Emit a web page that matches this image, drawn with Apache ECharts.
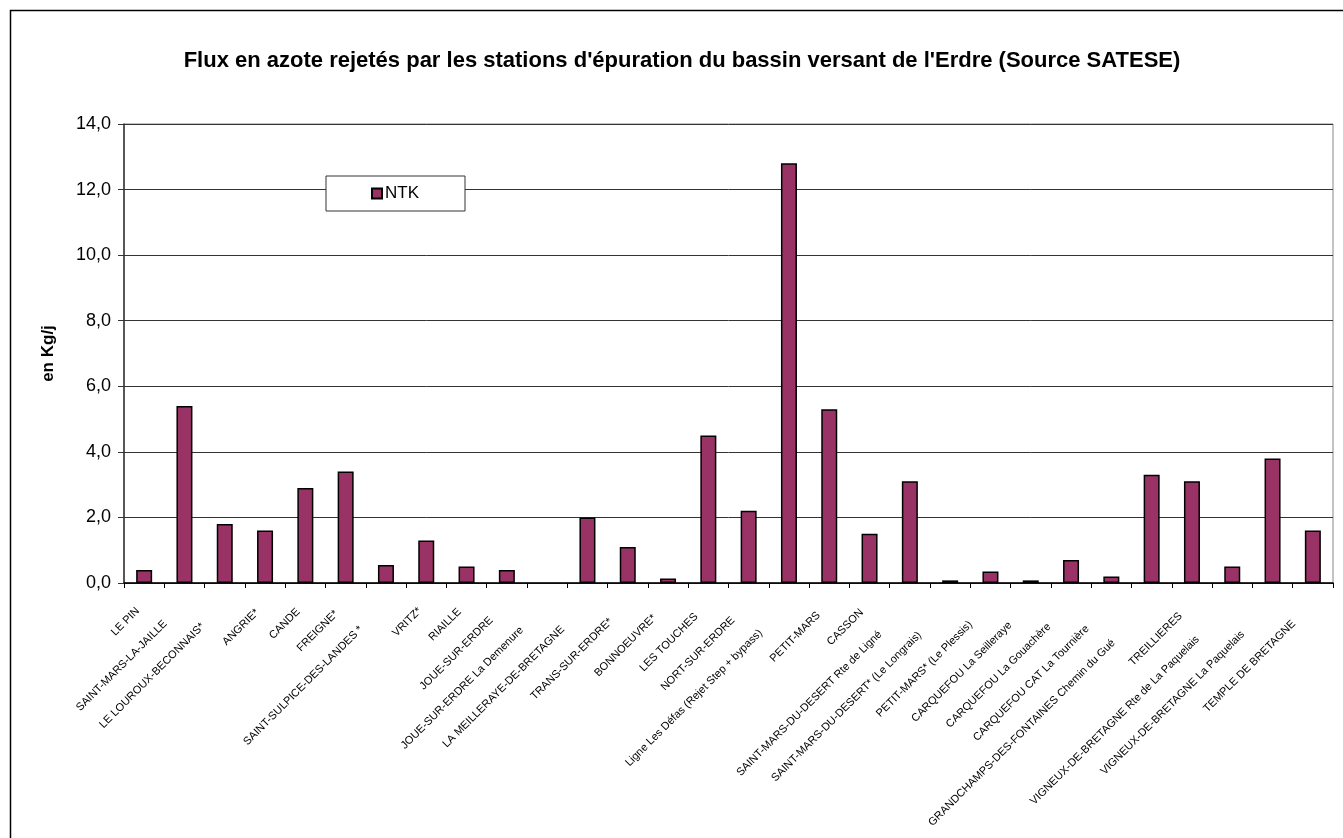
<!DOCTYPE html>
<html>
<head>
<meta charset="utf-8">
<script src="https://cdn.jsdelivr.net/npm/echarts@6/dist/echarts.min.js"></script>
<style>
  html, body { margin: 0; padding: 0; background: #fff; overflow: hidden; }
  #chart { width: 1343px; height: 838px; }
</style>
</head>
<body>
<div id="chart"></div>
<script>
// stations d'épuration, dans l'ordre du graphique
const stations = [
  'LE PIN', 'SAINT-MARS-LA-JAILLE', 'LE LOUROUX-BECONNAIS*', 'ANGRIE*', 'CANDE',
  'FREIGNE*', 'SAINT-SULPICE-DES-LANDES *', 'VRITZ*', 'RIAILLE', 'JOUE-SUR-ERDRE',
  'JOUE-SUR-ERDRE La Demenure', 'LA MEILLERAYE-DE-BRETAGNE', 'TRANS-SUR-ERDRE*', 'BONNOEUVRE*', 'LES TOUCHES',
  'NORT-SUR-ERDRE', 'Ligne Les Défas (Rejet Step + bypass)', 'PETIT-MARS', 'CASSON', 'SAINT-MARS-DU-DESERT Rte de Ligné',
  'SAINT-MARS-DU-DESERT* (Le Longrais)', 'PETIT-MARS* (Le Plessis)', 'CARQUEFOU La Seilleraye', 'CARQUEFOU La Gouachère', 'CARQUEFOU CAT La Tournière',
  'GRANDCHAMPS-DES-FONTAINES Chemin du Gué', 'TREILLIERES', 'VIGNEUX-DE-BRETAGNE Rte de La Paquelais', 'VIGNEUX-DE-BRETAGNE La Paquelais', 'TEMPLE DE BRETAGNE'
]

// flux NTK en kg/j
const ntk = [
  0.4, 5.4, 1.8, 1.6, 2.9,
  3.4, 0.55, 1.3, 0.5, 0.4,
  null, 2.0, 1.1, 0.14, 4.5,
  2.2, 12.8, 5.3, 1.5, 3.1,
  0.08, 0.35, 0.08, 0.7, 0.2,
  3.3, 3.1, 0.5, 3.8, 1.6
]

const yTicks = { min: 0, max: 14, interval: 2 }

const FONT = 'Arial, "Liberation Sans", sans-serif'

// Excel décale les libellés longs un peu plus bas le long de la diagonale
const measure = document.createElement('canvas').getContext('2d')
measure.font = '11px ' + FONT
const categoryData = stations.map(name => {
  const w = measure.measureText(name).width
  return {
    value: name,
    textStyle: { padding: [0, Math.round(8 + 0.2 * Math.max(0, w - 30)), 0, 0] }
  }
})

const chart = echarts.init(document.getElementById('chart'), null, { renderer: 'canvas' })

chart.setOption({
  backgroundColor: '#fff',
  animation: false,
  textStyle: { fontFamily: FONT },
  title: {
    text: "Flux en azote rejetés par les stations d'épuration du bassin versant de l'Erdre (Source SATESE)",
    left: 682,
    textAlign: 'center',
    top: 50,
    padding: 0,
    textStyle: { fontSize: 22, fontWeight: 'bold', color: '#000', fontFamily: FONT }
  },
  legend: {
    left: 326,
    top: 176,
    orient: 'horizontal',
    backgroundColor: '#fff',
    borderColor: '#333',
    borderWidth: 1,
    padding: [9, 46, 9, 45],
    itemWidth: 10,
    itemHeight: 10,
    itemGap: 0,
    icon: 'rect',
    textStyle: { fontSize: 17, color: '#000', padding: [2, 0, 0, -2], fontFamily: FONT },
    data: ['NTK']
  },
  grid: {
    left: 124,
    right: 10,
    top: 124,
    bottom: 255,
    show: true,
    borderColor: '#888',
    borderWidth: 1,
    backgroundColor: 'transparent'
  },
  xAxis: {
    type: 'category',
    data: categoryData,
    axisLine: { lineStyle: { color: '#000', width: 1.5 } },
    axisTick: { show: true, length: 5, lineStyle: { color: '#000' } },
    axisLabel: {
      interval: 0,
      rotate: 45,
      margin: 20,
      fontSize: 11,
      color: '#000',
      fontFamily: FONT
    },
    splitLine: { show: false }
  },
  yAxis: {
    type: 'value',
    min: yTicks.min,
    max: yTicks.max,
    interval: yTicks.interval,
    name: 'en Kg/j',
    nameLocation: 'middle',
    nameGap: 67,
    nameRotate: 90,
    nameTextStyle: { fontSize: 17, fontWeight: 'bold', color: '#000', fontFamily: FONT },
    axisLine: { show: true, lineStyle: { color: '#333', width: 1.5 } },
    axisTick: { show: true, length: 6, lineStyle: { color: '#333' } },
    axisLabel: {
      fontSize: 18,
      color: '#000',
      margin: 13,
      fontFamily: FONT,
      formatter: v => v.toFixed(1).replace('.', ',')
    },
    splitLine: { show: true, lineStyle: { color: '#333', width: 1 } }
  },
  graphic: [{
    type: 'rect',
    silent: true,
    shape: { x: 10.5, y: 10.5, width: 1400, height: 900 },
    style: { fill: 'none', stroke: '#000', lineWidth: 1.5 }
  }],
  series: [{
    name: 'NTK',
    type: 'bar',
    data: ntk,
    barWidth: 16,
    itemStyle: { color: '#993366', borderColor: '#000', borderWidth: 1.5 }
  }]
})
</script>
</body>
</html>
